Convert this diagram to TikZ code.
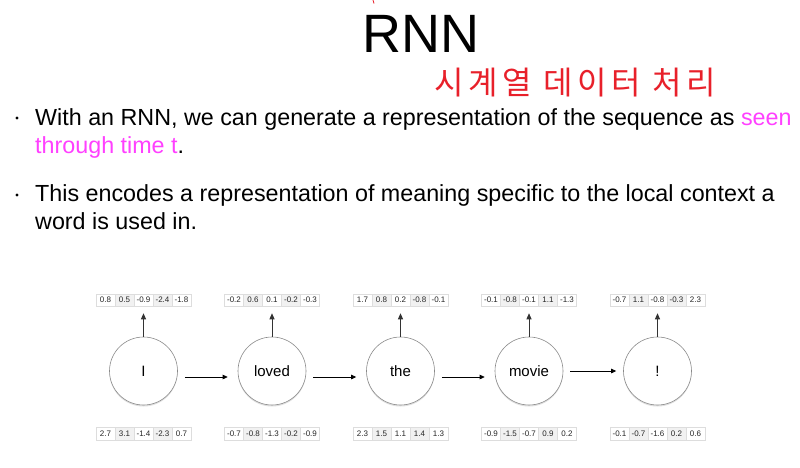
\documentclass[tikz,border=0pt]{standalone}
\usepackage{fontspec}
\setmainfont{Liberation Sans}
\newfontfamily\krfont{Noto Sans CJK KR}
\usetikzlibrary{arrows.meta,shadows}
\definecolor{hlpink}{HTML}{FF40FF}
\definecolor{penred}{HTML}{E8202A}
\definecolor{cellline}{HTML}{DDDDDD}
\definecolor{cellfill}{HTML}{F1F1F1}
\definecolor{circline}{HTML}{8A8A8A}
\tikzset{
  wordnode/.style={circle, draw=circline, line width=0.6pt, fill=white, minimum size=68pt, inner sep=0pt,
    font=\fontsize{15}{17}\selectfont, drop shadow={shadow xshift=0pt, shadow yshift=-1.5pt, opacity=0.25}},
  cellnode/.style={draw=cellline, line width=0.5pt, minimum width=19pt, inner sep=0pt,
    font=\fontsize{8}{9}\selectfont, text=black!85},
  uparr/.style={draw=black!80, line width=0.8pt, -{Triangle[length=6pt,width=5pt]}},
  harr/.style={draw=black, line width=0.8pt, -{Triangle[length=5pt,width=4.5pt]}},
  bodytext/.style={anchor=base west, inner sep=0pt, font=\fontsize{23.3}{28}\selectfont},
}
\begin{document}
\begin{tikzpicture}[x=1pt,y=-1pt]
\useasboundingbox (0,0) rectangle (800,467);
\fill[white] (0,0) rectangle (800,467);
% title
\node[anchor=base, inner sep=0pt, font=\fontsize{54}{60}\selectfont] (title) at (421,52) {RNN};
\draw[penred, line width=0.8pt] (373,0) -- (374,3.5);
\node[inner sep=0pt, text=penred, font=\krfont\fontsize{32}{36}\selectfont\addfontfeature{LetterSpace=14}] (note) at (575,83) {시계열 데이터 처리};
% bullets
\fill (17,118) circle (1.6);
\fill (17,195) circle (1.6);
\node[bodytext] (b1a) at (35,125) {With an RNN, we can generate a representation of the sequence as \textcolor{hlpink}{seen}};
\node[bodytext] (b1b) at (35,153) {\textcolor{hlpink}{through time t}.};
\node[bodytext] (b2a) at (35,201) {This encodes a representation of meaning specific to the local context a};
\node[bodytext] (b2b) at (35,229) {word is used in.};
% diagram
\foreach \x/\w/\n/\tv/\bv in {
  143.5/I/wa/{0.8,0.5,-0.9,-2.4,-1.8}/{2.7,3.1,-1.4,-2.3,0.7},
  272/loved/wb/{-0.2,0.6,0.1,-0.2,-0.3}/{-0.7,-0.8,-1.3,-0.2,-0.9},
  400.5/the/wc/{1.7,0.8,0.2,-0.8,-0.1}/{2.3,1.5,1.1,1.4,1.3},
  529/movie/wd/{-0.1,-0.8,-0.1,1.1,-1.3}/{-0.9,-1.5,-0.7,0.9,0.2},
  657.5/!/we/{-0.7,1.1,-0.8,-0.3,2.3}/{-0.1,-0.7,-1.6,0.2,0.6}}{
  \node[wordnode] (\n) at (\x,371) {\w};
  \foreach \v [count=\k] in \tv {
    \ifodd\k\def\cf{white}\else\def\cf{cellfill}\fi
    \node[cellnode, fill=\cf, minimum height=12pt] (\n t\k) at (\x+\k*19-57,300) {\v};
  }
  \foreach \v [count=\k] in \bv {
    \ifodd\k\def\cf{white}\else\def\cf{cellfill}\fi
    \node[cellnode, fill=\cf, minimum height=13pt] (\n b\k) at (\x+\k*19-57,434) {\v};
  }
  \draw[uparr, shorten >=7pt] (\n.north) -- (\n t3.south);
}
\draw[harr, shorten <=7pt, shorten >=10pt] ([yshift=-6pt]wa.east) -- ([yshift=-6pt]wb.west);
\draw[harr, shorten <=7pt, shorten >=10pt] ([yshift=-6pt]wb.east) -- ([yshift=-6pt]wc.west);
\draw[harr, shorten <=7pt, shorten >=10pt] ([yshift=-6pt]wc.east) -- ([yshift=-6pt]wd.west);
\draw[harr, shorten <=7pt, shorten >=7pt] (wd.east) -- (we.west);
\end{tikzpicture}
\end{document}
